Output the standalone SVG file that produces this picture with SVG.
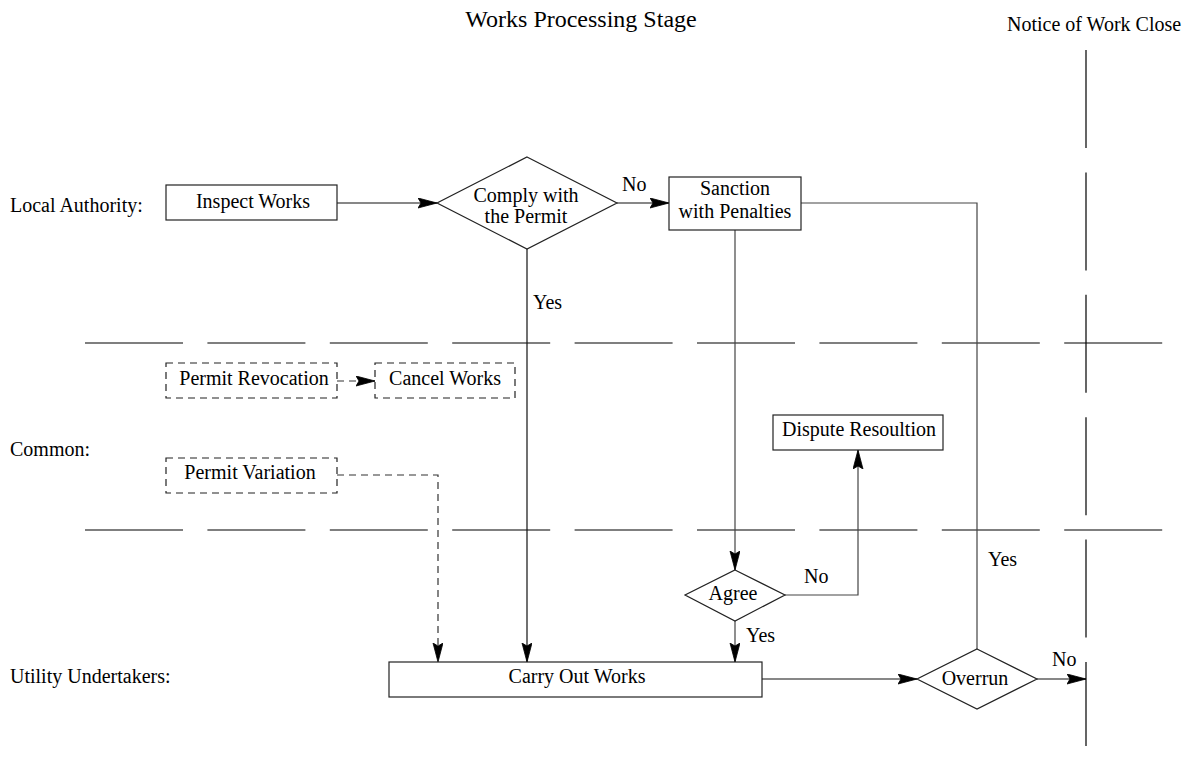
<svg xmlns="http://www.w3.org/2000/svg" width="1191" height="760" viewBox="0 0 1191 760">
<style>
text{font-family:"Liberation Serif","Times New Roman",serif;font-size:20px;fill:#000}
.c{text-anchor:middle}
.box{fill:#fff;stroke:#222;stroke-width:1.2}
.dbox{fill:#fff;stroke:#222;stroke-width:1.2;stroke-dasharray:7 5}
.ln{fill:none;stroke:#111;stroke-width:1.2}
.gl{fill:none;stroke:#444;stroke-width:1.2}
.dl{fill:none;stroke:#333;stroke-width:1.2;stroke-dasharray:7 5}
.sep{fill:none;stroke:#000;stroke-width:1.2;stroke-dasharray:98 24.4}
</style>
<defs>
<marker id="ah" markerUnits="userSpaceOnUse" markerWidth="22" markerHeight="12" refX="19" refY="5" orient="auto">
<path d="M0,0 L19,5 L0,10 L3,5 z" fill="#000" stroke="#000" stroke-width="0.8"/>
</marker>
</defs>
<g id="titles">
<text class="c" x="581" y="27" style="font-size:24px">Works Processing Stage</text>
<text x="1007" y="31">Notice of Work Close</text>
<text x="10" y="212">Local Authority:</text>
<text x="10" y="456">Common:</text>
<text x="10" y="683">Utility Undertakers:</text>
</g>
<g id="lanes">
<line class="sep" x1="85" y1="343" x2="1165" y2="343"/>
<line class="sep" x1="85" y1="530" x2="1165" y2="530"/>
<line class="sep" x1="1086" y1="50" x2="1086" y2="746"/>
</g>
<g id="connectors">
<line class="ln" x1="337" y1="203" x2="437" y2="203" marker-end="url(#ah)"/>
<line class="ln" x1="617" y1="203" x2="669" y2="203" marker-end="url(#ah)"/>
<polyline class="gl" points="801,203 977,203 977,649"/>
<line class="gl" x1="735" y1="230" x2="735" y2="570" marker-end="url(#ah)"/>
<line class="ln" x1="527" y1="249" x2="527" y2="662" marker-end="url(#ah)"/>
<line class="dl" x1="337" y1="381" x2="375" y2="381" marker-end="url(#ah)"/>
<polyline class="dl" points="337,475 438,475 438,662" marker-end="url(#ah)"/>
<polyline class="gl" points="785,595 858,595 858,450" marker-end="url(#ah)"/>
<line class="gl" x1="735" y1="621" x2="735" y2="662" marker-end="url(#ah)"/>
<line class="ln" x1="762" y1="679" x2="917" y2="679" marker-end="url(#ah)"/>
<line class="ln" x1="1037" y1="679" x2="1086" y2="679" marker-end="url(#ah)"/>
<text x="622" y="191">No</text>
<text x="533" y="309">Yes</text>
<text x="804" y="583">No</text>
<text x="746" y="642">Yes</text>
<text x="988" y="566">Yes</text>
<text x="1052" y="666">No</text>
</g>
<g id="inspect">
<rect class="box" x="166" y="185" width="171" height="35"/>
<text class="c" x="253" y="208">Inspect Works</text>
</g>
<g id="comply">
<polygon class="box" points="527,157 617,203 527,249 437,203"/>
<text class="c" x="526" y="202">Comply with</text>
<text class="c" x="526" y="223">the Permit</text>
</g>
<g id="sanction">
<rect class="box" x="669" y="177" width="132" height="53"/>
<text class="c" x="735" y="195">Sanction</text>
<text class="c" x="735" y="218">with Penalties</text>
</g>
<g id="revocation">
<rect class="dbox" x="166" y="363" width="171" height="35"/>
<text class="c" x="254" y="385">Permit Revocation</text>
</g>
<g id="cancel">
<rect class="dbox" x="375" y="363" width="140" height="35"/>
<text class="c" x="445" y="385">Cancel Works</text>
</g>
<g id="variation">
<rect class="dbox" x="166" y="458" width="171" height="35"/>
<text class="c" x="250" y="479">Permit Variation</text>
</g>
<g id="dispute">
<rect class="box" x="773" y="415" width="170" height="35"/>
<text class="c" x="859" y="436">Dispute Resoultion</text>
</g>
<g id="agree">
<polygon class="box" points="735,570 785,595 735,621 685,595"/>
<text class="c" x="733" y="600">Agree</text>
</g>
<g id="carry">
<rect class="box" x="389" y="662" width="373" height="35"/>
<text class="c" x="577" y="683">Carry Out Works</text>
</g>
<g id="overrun">
<polygon class="box" points="977,649 1037,679 977,709 917,679"/>
<text class="c" x="975" y="685">Overrun</text>
</g>
</svg>
